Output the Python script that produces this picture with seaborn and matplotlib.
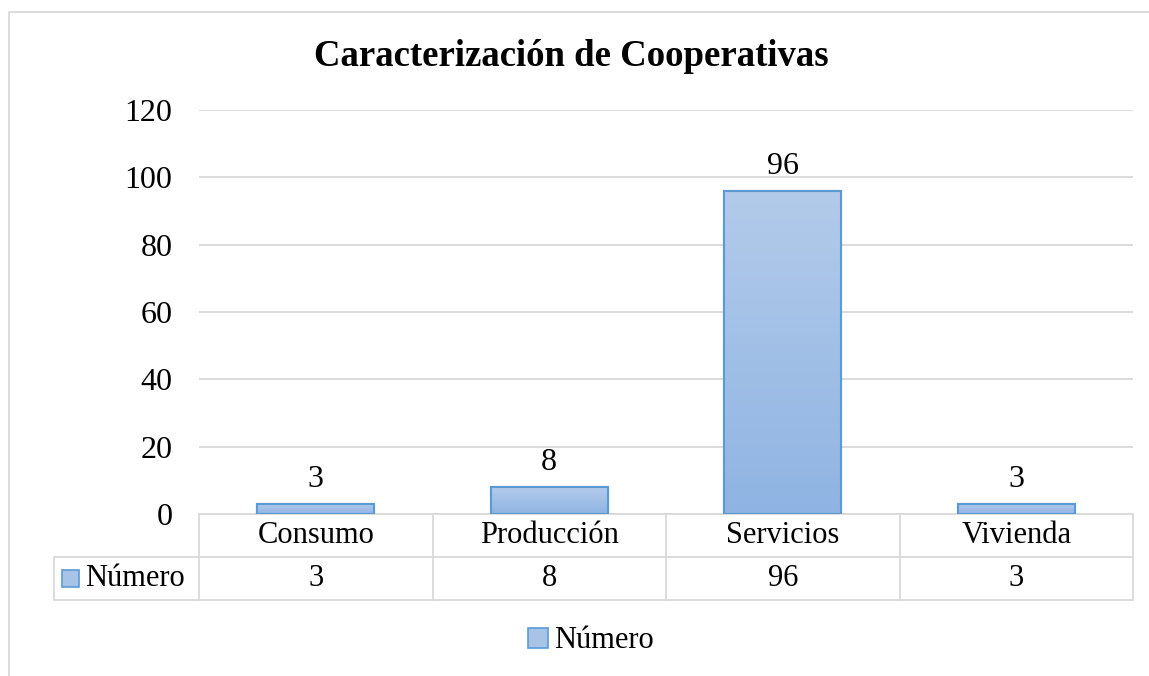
import numpy as np
import pandas as pd
import matplotlib
matplotlib.use('Agg')
import matplotlib.pyplot as plt
import matplotlib.transforms as mtransforms
from matplotlib.patches import Rectangle
from matplotlib.lines import Line2D
import seaborn as sns

categorias = ['Consumo', 'Producción', 'Servicios', 'Vivienda']
numero = [3, 8, 96, 3]
serie = 'Número'
titulo = 'Caracterización de Cooperativas'

df = pd.DataFrame({'categoria': categorias, 'numero': numero})

sns.set_style('white')
plt.rcParams['font.family'] = ['Liberation Serif', 'DejaVu Serif']
plt.rcParams['text.color'] = 'black'
plt.rcParams['ytick.color'] = 'black'
plt.rcParams['xtick.color'] = 'black'

W, H = 1149, 676
fig = plt.figure(figsize=(W / 100, H / 100), dpi=100)
ax = fig.add_axes([199 / W, 1 - 514 / H, (1133 - 199) / W, (514 - 110) / H])

sns.barplot(data=df, x='categoria', y='numero', color='#a7c3e6', width=0.5,
            edgecolor='#5b9bd5', linewidth=1.5, ax=ax, zorder=3)

# vertical gradient inside each bar
grad = np.linspace(0, 1, 256).reshape(-1, 1)
cmap = matplotlib.colors.LinearSegmentedColormap.from_list('g', ['#8fb4e3', '#b3cbea'])
for p in ax.patches:
    x0, y0 = p.get_x(), p.get_y()
    w, h = p.get_width(), p.get_height()
    im = ax.imshow(grad, extent=[x0, x0 + w, y0, y0 + h], origin='lower',
                   cmap=cmap, aspect='auto', zorder=3.5)
    im.set_clip_path(p)
    ax.add_patch(Rectangle((x0, y0), w, h, fill=False, edgecolor='#5b9bd5',
                           linewidth=1.5, zorder=4))

ax.set_xlim(-0.5, 3.5)
ax.set_ylim(0, 120)
ax.set_yticks(np.arange(0, 121, 20))
ax.yaxis.grid(True, color='#d9d9d9', linewidth=1.3, zorder=0)
ax.set_axisbelow(True)
for s in ax.spines.values():
    s.set_visible(False)
ax.set_xlabel('')
ax.set_ylabel('')
ax.set_xticks([])
ax.tick_params(axis='y', length=0, labelsize=23, pad=19, labelcolor='black')

for i, v in enumerate(numero):
    ax.text(i, v + 3, str(v), ha='center', va='bottom', fontsize=23, zorder=5)

# data table below the axis
tr = mtransforms.blended_transform_factory(ax.transData, ax.transAxes)
row = 43 / (514 - 110)
xl = -0.5 - (199 - 54) / ((1133 - 199) / 4)
lc = '#d9d9d9'
lw = 1.3
def hline(x1, x2, y):
    ax.add_line(Line2D([x1, x2], [y, y], transform=tr, color=lc, lw=lw, clip_on=False))
def vline(x, y1, y2):
    ax.add_line(Line2D([x, x], [y1, y2], transform=tr, color=lc, lw=lw, clip_on=False))

hline(-0.5, 3.5, 0)
hline(xl, 3.5, -row)
hline(xl, 3.5, -2 * row)
vline(xl, -row, -2 * row)
for k in range(5):
    vline(-0.5 + k, 0, -2 * row)
for i, (c, v) in enumerate(zip(categorias, numero)):
    ax.text(i, -row / 2, c, transform=tr, ha='center', va='center', fontsize=22)
    ax.text(i, -1.5 * row, str(v), transform=tr, ha='center', va='center', fontsize=22)

# legend key inside table
ax.add_patch(Rectangle((xl + 0.035, -1.5 * row - 0.02), 0.072, 0.04, transform=tr,
                       facecolor='#a7c3e6', edgecolor='#5b9bd5', lw=1.2, clip_on=False))
ax.text(xl + 0.135, -1.5 * row, serie, transform=tr, ha='left', va='center', fontsize=22)

fig.text(571 / W, 1 - 57 / H, titulo, ha='center', va='center', fontsize=26.5, fontweight='bold')

handle = Rectangle((0, 0), 1, 1, facecolor='#a7c3e6', edgecolor='#5b9bd5', lw=1.2)
fig.legend([handle], [serie], loc='center', bbox_to_anchor=(591 / W, 1 - 641 / H),
           frameon=False, fontsize=22, handlelength=0.65, handleheight=0.65, handletextpad=0.2,
           labelcolor='black')

# chart outer border
fig.add_artist(Rectangle((8.5 / W, -0.1), 1.2, 1 - 11.5 / H + 0.1, transform=fig.transFigure,
                         fill=False, edgecolor='#d9d9d9', lw=1.3))

fig.savefig('out.png', dpi=100)
